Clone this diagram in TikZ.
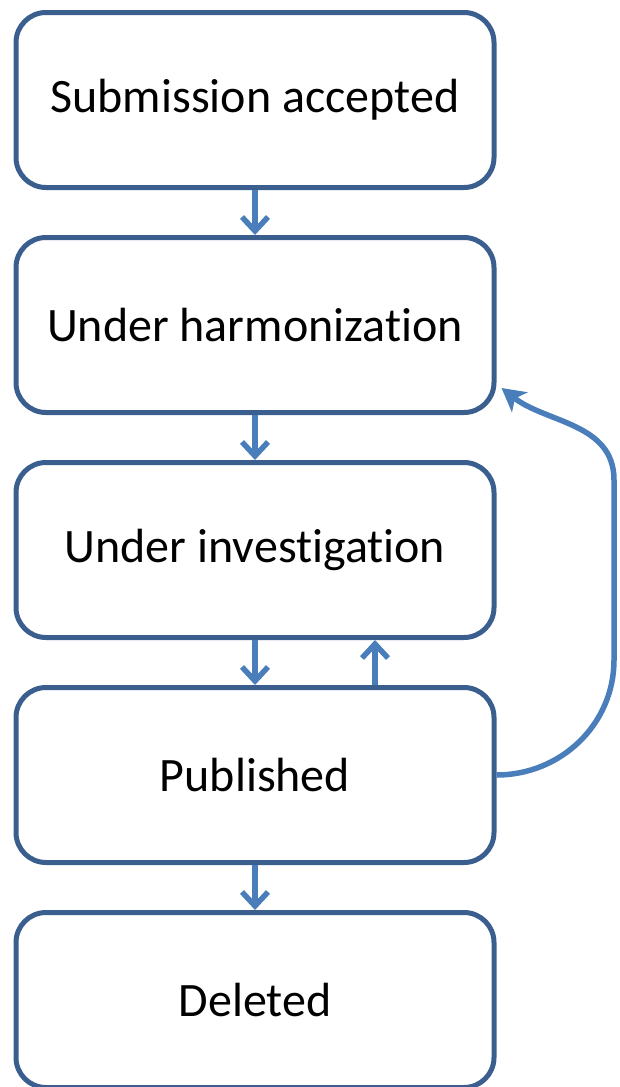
\documentclass[tikz,border=0pt]{standalone}
\usepackage{fontspec}
\setmainfont[Ligatures={NoCommon}]{Carlito}
\usetikzlibrary{arrows.meta,calc}
\definecolor{boxline}{HTML}{3A5F8E}
\definecolor{arrowblue}{HTML}{4A7EBB}
\begin{document}
\begin{tikzpicture}[x=1pt,y=-1pt,
  state/.style={draw=boxline, line width=5pt, fill=white, rounded corners=30pt,
    minimum width=478pt, minimum height=175pt, inner sep=0pt,
    font=\fontsize{48}{53}\selectfont},
  flow/.style={draw=arrowblue, line width=5.5pt,
    -{Straight Barb[length=14pt,width=26pt,line width=5.5pt]}},
  back/.style={draw=arrowblue, line width=5.5pt,
    -{Stealth[length=23pt,width=25pt,inset=6pt]}}]
\useasboundingbox (0,0) rectangle (619,1087);
\clip (0,0) rectangle (619,1087);
\node[state] (s1) at (255,100)  {Submission accepted};
\node[state] (s2) at (255,325) {Under harmonization};
\node[state] (s3) at (255,550) {Under investigation};
\node[state] (s4) at (255,775) {Published};
\node[state] (s5) at (255,1000) {Deleted};
% forward transitions
\draw[flow] (s1.south) -- (s2.north);
\draw[flow] (s2.south) -- (s3.north);
\draw[flow] (s3.south) -- (s4.north);
\draw[flow] (s4.south) -- (s5.north);
% return to investigation
\draw[flow] (s4.north -| 375,0) -- (s3.south -| 375,0);
% return to harmonization
\coordinate (r1) at (614,660);
\coordinate (r2) at (614,480);
\coordinate (rt) at ($(s2.east)+(5,63)$);
\draw[back] (s4.east) to[out=0,in=-90] (r1) -- (r2) to[out=90,in=-38] (rt);
\end{tikzpicture}
\end{document}
